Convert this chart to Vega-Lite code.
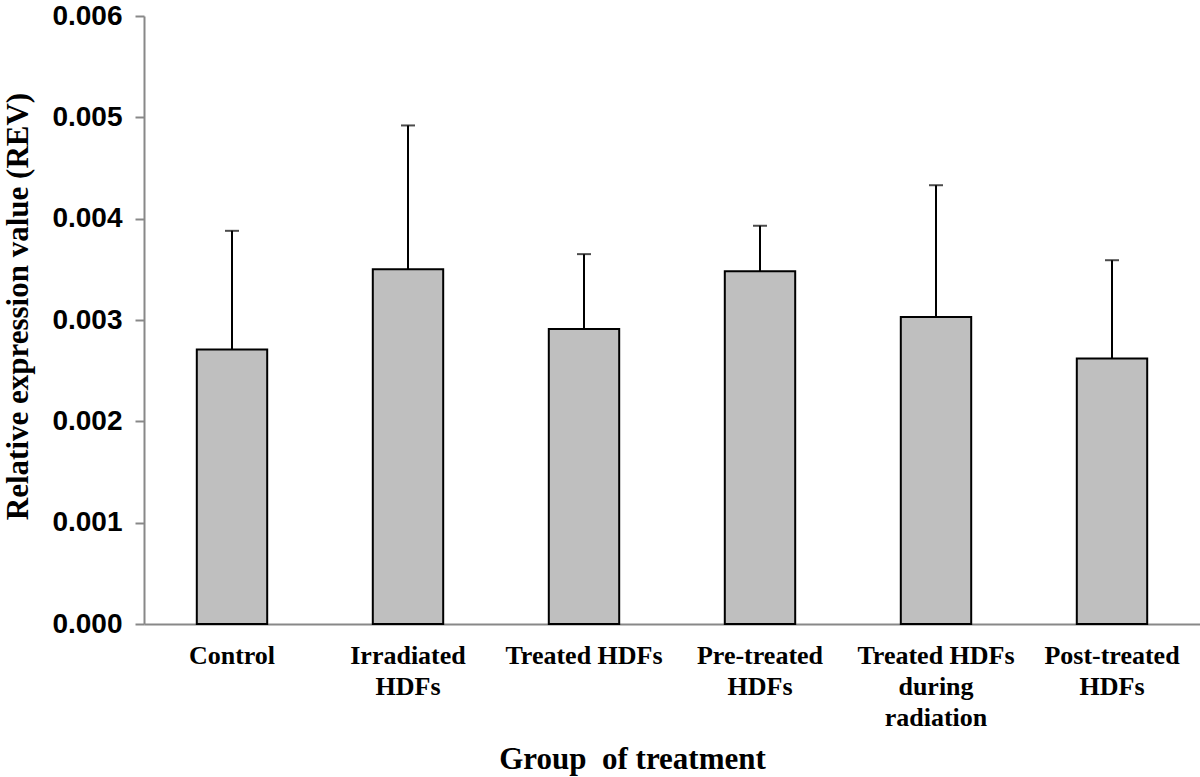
{
  "$schema": "https://vega.github.io/schema/vega-lite/v6.json",
  "autosize": {"type": "none"},
  "padding": {"left": 144, "top": 16, "right": 0, "bottom": 153},
  "width": 1056,
  "height": 608,
  "background": "white",
  "config": {
    "view": {"stroke": null},
    "axis": {"grid": false}
  },
  "data": {
    "values": [
      {"group": "Control", "rev": 0.00271, "upper": 0.00388},
      {"group": "Irradiated|HDFs", "rev": 0.00350, "upper": 0.00492},
      {"group": "Treated HDFs", "rev": 0.00291, "upper": 0.00365},
      {"group": "Pre-treated|HDFs", "rev": 0.00348, "upper": 0.00393},
      {"group": "Treated HDFs|during|radiation", "rev": 0.00303, "upper": 0.00433},
      {"group": "Post-treated|HDFs", "rev": 0.00262, "upper": 0.00359}
    ]
  },
  "encoding": {
    "x": {
      "field": "group",
      "type": "nominal",
      "sort": null,
      "scale": {"paddingInner": 0.6, "paddingOuter": 0.3},
      "axis": {
        "title": "Group\u00a0 of treatment",
        "titleFont": "Liberation Serif",
        "titleFontWeight": "bold",
        "titleFontSize": 31,
        "titleColor": "black",
        "titleBaseline": "alphabetic",
        "titleX": 488,
        "titleY": 144,
        "titleAnchor": null,
        "labelExpr": "split(datum.label, '|')",
        "labelAngle": 0,
        "labelFont": "Liberation Serif",
        "labelFontWeight": "bold",
        "labelFontSize": 26,
        "labelColor": "black",
        "labelLineHeight": 31,
        "labelBaseline": "alphabetic",
        "labelPadding": 39,
        "labelOverlap": false,
        "labelBound": false,
        "ticks": false,
        "tickSize": 0,
        "domainColor": "#888888",
        "domainWidth": 2
      }
    }
  },
  "layer": [
    {
      "mark": {"type": "rule", "color": "black", "strokeWidth": 2},
      "encoding": {
        "y": {"field": "rev", "type": "quantitative"},
        "y2": {"field": "upper"}
      }
    },
    {
      "mark": {"type": "tick", "color": "black", "thickness": 2, "size": 14, "orient": "horizontal"},
      "encoding": {
        "y": {"field": "upper", "type": "quantitative"}
      }
    },
    {
      "mark": {"type": "bar", "fill": "#bfbfbf", "stroke": "black", "strokeWidth": 2},
      "encoding": {
        "y": {
          "field": "rev",
          "type": "quantitative",
          "scale": {"domain": [0, 0.006], "nice": false, "zero": true},
          "axis": {
            "title": "Relative expression value (REV)",
            "titleFont": "Liberation Serif",
            "titleFontWeight": "bold",
            "titleFontSize": 31,
            "titleColor": "black",
            "titleBaseline": "alphabetic",
            "titleAngle": -90,
            "titleX": -117,
            "titleY": 290,
            "titleAnchor": null,
            "values": [0, 0.001, 0.002, 0.003, 0.004, 0.005, 0.006],
            "format": ".3f",
            "labelFont": "Liberation Sans",
            "labelFontWeight": "bold",
            "labelFontSize": 28,
            "labelColor": "black",
            "labelPadding": 13,
            "labelBound": false,
            "labelOverlap": false,
            "tickSize": 9,
            "tickColor": "#888888",
            "tickWidth": 2,
            "domainColor": "#888888",
            "domainWidth": 2
          }
        }
      }
    }
  ]
}
